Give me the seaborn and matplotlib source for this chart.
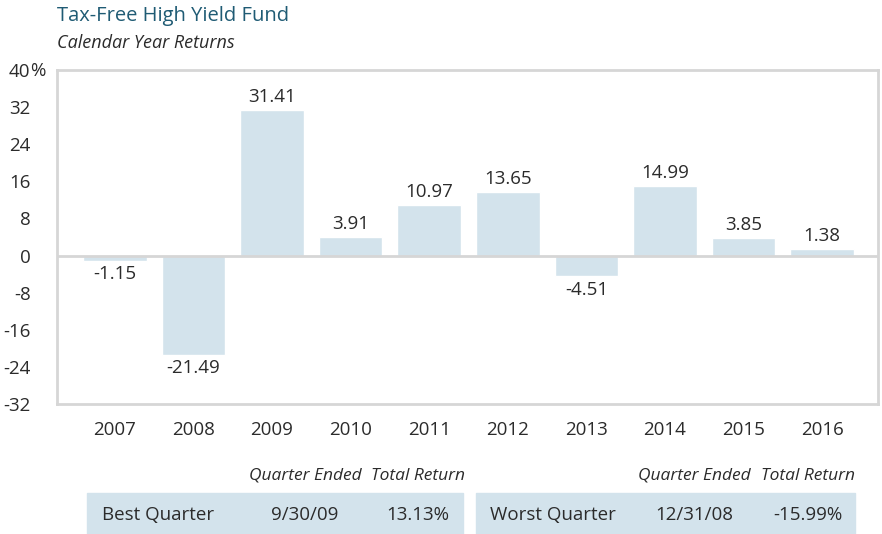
import matplotlib
matplotlib.use("Agg")
import matplotlib.pyplot as plt
from matplotlib.patches import Rectangle
import seaborn as sns
import pandas as pd

years = ["2007", "2008", "2009", "2010", "2011", "2012", "2013", "2014", "2015", "2016"]
returns = [-1.15, -21.49, 31.41, 3.91, 10.97, 13.65, -4.51, 14.99, 3.85, 1.38]
y_ticks = [40, 32, 24, 16, 8, 0, -8, -16, -24, -32]

best_quarter = ["Best Quarter", "9/30/09", "13.13%"]
worst_quarter = ["Worst Quarter", "12/31/08", "-15.99%"]
table_headers = ["Quarter Ended", "Total Return"]

sns.set_theme(style="white")
plt.rcParams["font.family"] = ["Open Sans", "DejaVu Sans"]

BAR = "#d3e3ec"
TEXT = "#2b2b2b"
TITLE = "#1f5b74"
GRID = "#d6d6d6"

W, H = 882, 534
fig = plt.figure(figsize=(W / 100, H / 100), dpi=100)


def fx(px):
    return px / W


def fy(py):
    return 1 - py / H


ax = fig.add_axes([fx(57), fy(404), fx(878) - fx(57), fy(70) - fy(404)])

df = pd.DataFrame({"year": years, "ret": returns})
sns.barplot(data=df, x="year", y="ret", color=BAR, saturation=1, width=0.81,
            ax=ax, zorder=2)

ax.set_ylim(-32, 40)
ax.set_xlim(-0.735, 9.71)
ax.axhline(0, color=GRID, lw=2, zorder=3)

for s in ax.spines.values():
    s.set_color(GRID)
    s.set_linewidth(2)

ax.set_yticks(y_ticks)
ax.set_yticklabels([str(v) for v in y_ticks])
ax.tick_params(axis="y", length=0, pad=19, labelsize=13.5, labelcolor=TEXT)
ax.tick_params(axis="x", length=0, pad=12, labelsize=13.5, labelcolor=TEXT)
ax.set_xlabel("")
ax.set_ylabel("")
# percent sign trailing the top tick label
fig.text(fx(30), fy(71), "%", ha="left", va="center", fontsize=13.5, color=TEXT)

for i, v in enumerate(returns):
    if v >= 0:
        ax.annotate(f"{v:.2f}", (i, v), xytext=(0, 3), textcoords="offset points",
                    ha="center", va="bottom", fontsize=13.5, color=TEXT)
    else:
        ax.annotate(f"{v:.2f}", (i, v), xytext=(0, -3), textcoords="offset points",
                    ha="center", va="top", fontsize=13.5, color=TEXT)

fig.text(fx(57), fy(16), "Tax-Free High Yield Fund", fontsize=14.5, color=TITLE,
         ha="left", va="center")
fig.text(fx(57), fy(43), "Calendar Year Returns", fontsize=13, color=TEXT,
         style="italic", ha="left", va="center")

# quarter summary boxes
fig.patches.append(Rectangle((fx(87), fy(534)), fx(463) - fx(87), fy(493) - fy(534),
                             transform=fig.transFigure, color=BAR, zorder=0))
fig.patches.append(Rectangle((fx(476), fy(534)), fx(855) - fx(476), fy(493) - fy(534),
                             transform=fig.transFigure, color=BAR, zorder=0))

hdr_y = fy(476)
row_y = fy(515)
for cx_date, cx_ret, row, lx in [(305, 418, best_quarter, 102), (694, 808, worst_quarter, 490)]:
    fig.text(fx(cx_date), hdr_y, table_headers[0], style="italic", fontsize=12.5,
             color=TEXT, ha="center", va="center")
    fig.text(fx(cx_ret), hdr_y, table_headers[1], style="italic", fontsize=12.5,
             color=TEXT, ha="center", va="center")
    fig.text(fx(lx), row_y, row[0], fontsize=13.5, color=TEXT, ha="left", va="center")
    fig.text(fx(cx_date), row_y, row[1], fontsize=13.5, color=TEXT, ha="center", va="center")
    fig.text(fx(cx_ret), row_y, row[2], fontsize=13.5, color=TEXT, ha="center", va="center")

fig.savefig("out.png", dpi=100)
